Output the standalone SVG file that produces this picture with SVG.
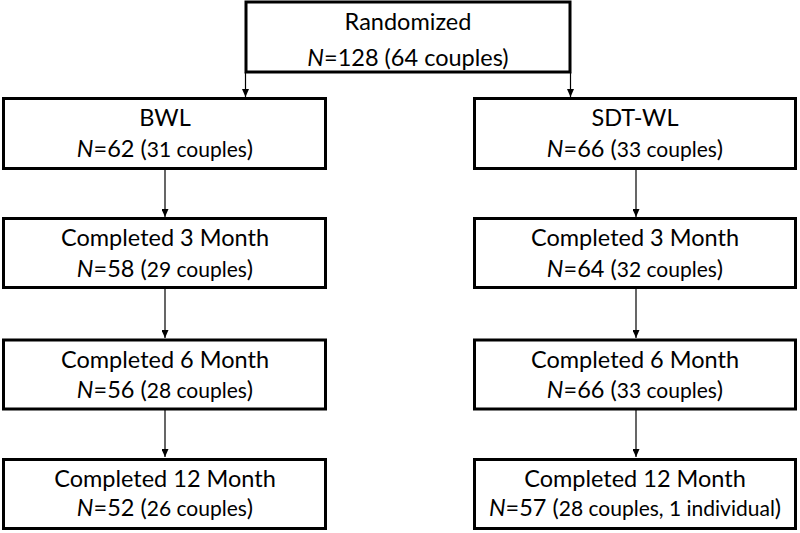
<svg xmlns="http://www.w3.org/2000/svg" width="800" height="533" viewBox="0 0 800 533">
<style>
.box{fill:#fff;stroke:#000;stroke-width:3}
.t{font-family:Lato,"Liberation Sans",sans-serif;font-size:23.5px;fill:#000;text-anchor:middle}
.s{font-size:21px}
.i{font-style:italic}
.c{stroke:#000;stroke-width:1.2;fill:none}
</style>
<defs>
<marker id="ah" markerWidth="8" markerHeight="7" refX="8" refY="3.5" orient="auto" markerUnits="userSpaceOnUse">
<path d="M0,0 L8,3.5 L0,7 Z" fill="#000"/>
</marker>
</defs>
<g id="connectors">
<line class="c" x1="245.5" y1="72" x2="245.5" y2="97" marker-end="url(#ah)"/>
<line class="c" x1="570.5" y1="72" x2="570.5" y2="97" marker-end="url(#ah)"/>
<line class="c" x1="165" y1="170" x2="165" y2="217" marker-end="url(#ah)"/>
<line class="c" x1="165" y1="289" x2="165" y2="338" marker-end="url(#ah)"/>
<line class="c" x1="165" y1="410" x2="165" y2="457" marker-end="url(#ah)"/>
<line class="c" x1="636" y1="170" x2="636" y2="217" marker-end="url(#ah)"/>
<line class="c" x1="636" y1="289" x2="636" y2="338" marker-end="url(#ah)"/>
<line class="c" x1="636" y1="410" x2="636" y2="457" marker-end="url(#ah)"/>
</g>
<g id="randomized">
<rect class="box" x="246" y="2" width="324" height="70"/>
<text class="t" x="408" y="30">Randomized</text>
<text class="t" x="408" y="66"><tspan class="i">N</tspan>=128 (64 couples)</text>
</g>
<g id="bwl">
<rect class="box" x="3.5" y="98.5" width="322" height="70"/>
<text class="t" x="165" y="126">BWL</text>
<text class="t" x="165" y="157"><tspan class="i">N</tspan>=62 (<tspan class="s">31 couples</tspan>)</text>
</g>
<g id="sdtwl">
<rect class="box" x="474.5" y="98.5" width="321" height="70"/>
<text class="t" x="635" y="126">SDT-WL</text>
<text class="t" x="635" y="157"><tspan class="i">N</tspan>=66 (<tspan class="s">33 couples</tspan>)</text>
</g>
<g id="bwl3">
<rect class="box" x="3.5" y="218.5" width="322" height="69"/>
<text class="t" x="165" y="246">Completed 3 Month</text>
<text class="t" x="165" y="277"><tspan class="i">N</tspan>=58 (<tspan class="s">29 couples</tspan>)</text>
</g>
<g id="sdt3">
<rect class="box" x="474.5" y="218.5" width="321" height="69"/>
<text class="t" x="635" y="246">Completed 3 Month</text>
<text class="t" x="635" y="277"><tspan class="i">N</tspan>=64 (<tspan class="s">32 couples</tspan>)</text>
</g>
<g id="bwl6">
<rect class="box" x="3.5" y="340" width="322" height="69"/>
<text class="t" x="165" y="368">Completed 6 Month</text>
<text class="t" x="165" y="398"><tspan class="i">N</tspan>=56 (<tspan class="s">28 couples</tspan>)</text>
</g>
<g id="sdt6">
<rect class="box" x="474.5" y="340" width="321" height="69"/>
<text class="t" x="635" y="368">Completed 6 Month</text>
<text class="t" x="635" y="398"><tspan class="i">N</tspan>=66 (<tspan class="s">33 couples</tspan>)</text>
</g>
<g id="bwl12">
<rect class="box" x="3.5" y="459.5" width="322" height="69"/>
<text class="t" x="165" y="487">Completed 12 Month</text>
<text class="t" x="165" y="516"><tspan class="i">N</tspan>=52 (<tspan class="s">26 couples</tspan>)</text>
</g>
<g id="sdt12">
<rect class="box" x="474.5" y="459.5" width="321" height="69"/>
<text class="t" x="635" y="487">Completed 12 Month</text>
<text class="t" x="635" y="516"><tspan class="i">N</tspan>=57 (<tspan class="s">28 couples, 1 individual</tspan>)</text>
</g>
</svg>
